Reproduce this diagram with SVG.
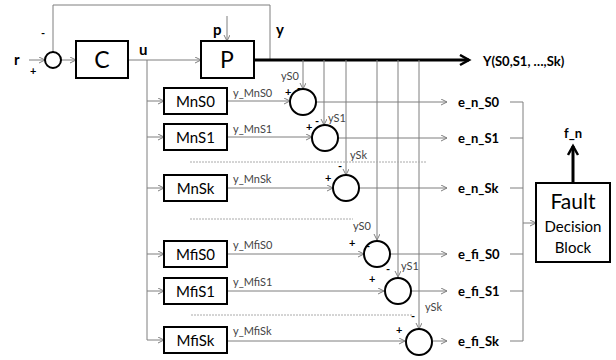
<svg xmlns="http://www.w3.org/2000/svg" width="616" height="360" viewBox="0 0 616 360">
<style>
text{font-family:Lato,"Open Sans","Liberation Sans",sans-serif;fill:#000}
.box{fill:#fff;stroke:#000;stroke-width:2}
.sum{fill:#fff;stroke:#000;stroke-width:2}
.c{fill:none;stroke:#7f7f7f;stroke-width:1}
.d{fill:none;stroke:#aaa;stroke-width:1;stroke-dasharray:2 1}
.thick{fill:none;stroke:#000;stroke-width:3}
.big{font-size:23px;text-anchor:middle}
.bl{font-size:15px;text-anchor:middle}
.sm{font-size:11px;fill:#444}
.sg{font-size:11px;font-weight:bold}
.e{font-size:13px;font-weight:bold}
.lb{font-size:15px;font-weight:bold}
</style>
<defs>
<marker id="a" markerWidth="8" markerHeight="8" refX="6" refY="3" orient="auto" markerUnits="userSpaceOnUse">
<path d="M0,0 L6,3 L0,6" fill="none" stroke="#7f7f7f" stroke-width="1"/>
</marker>
<marker id="ab" markerWidth="14" markerHeight="14" refX="10" refY="6" orient="auto" markerUnits="userSpaceOnUse">
<path d="M1,1 L10,6 L1,11" fill="none" stroke="#000" stroke-width="2.5"/>
</marker>
</defs>
<g id="connectors">
<path class="c" d="M53,52 V5 H270 V60" marker-start="url(#a)"/>
<path class="c" d="M29,60 H45" marker-end="url(#a)"/>
<path class="c" d="M61,60 H76" marker-end="url(#a)"/>
<path class="c" d="M128,60 H201" marker-end="url(#a)"/>
<path class="c" d="M227,16 V41" marker-end="url(#a)"/>
<path class="c" d="M147,60 V340"/>
<path class="c" d="M147,101 H164" marker-end="url(#a)"/>
<path class="c" d="M147,137 H164" marker-end="url(#a)"/>
<path class="c" d="M147,188 H164" marker-end="url(#a)"/>
<path class="c" d="M147,254 H164" marker-end="url(#a)"/>
<path class="c" d="M147,291 H164" marker-end="url(#a)"/>
<path class="c" d="M147,340 H164" marker-end="url(#a)"/>
<path class="thick" d="M254,60 H469" marker-end="url(#ab)"/>
<path class="c" d="M303,60 V89" marker-end="url(#a)"/>
<path class="c" d="M324,60 V125" marker-end="url(#a)"/>
<path class="c" d="M346,60 V175" marker-end="url(#a)"/>
<path class="c" d="M377,60 V240" marker-end="url(#a)"/>
<path class="c" d="M398,60 V277" marker-end="url(#a)"/>
<path class="c" d="M419,60 V329" marker-end="url(#a)"/>
<path class="c" d="M227,101 H290" marker-end="url(#a)"/>
<path class="c" d="M227,137 H312" marker-end="url(#a)"/>
<path class="c" d="M227,188 H333" marker-end="url(#a)"/>
<path class="c" d="M227,254 H364" marker-end="url(#a)"/>
<path class="c" d="M227,291 H384" marker-end="url(#a)"/>
<path class="c" d="M227,341 H405" marker-end="url(#a)"/>
<path class="c" d="M316,102 H447" marker-end="url(#a)"/>
<path class="c" d="M338,138 H447" marker-end="url(#a)"/>
<path class="c" d="M359,188 H447" marker-end="url(#a)"/>
<path class="c" d="M390,254 H447" marker-end="url(#a)"/>
<path class="c" d="M411,291 H447" marker-end="url(#a)"/>
<path class="c" d="M432,341 H447" marker-end="url(#a)"/>
<path class="c" d="M510,102 H523 M510,138 H523 M510,188 H523 M510,254 H523 M510,291 H523 M510,341 H523 M523,102 V341"/>
<path class="c" d="M523,223 H536" marker-end="url(#a)"/>
<path class="thick" d="M573,183 V146" marker-end="url(#ab)"/>
<path class="d" d="M190,162 H427"/>
<path class="d" d="M190,219 H353"/>
<path class="d" d="M191,315 H413"/>
</g>
<g id="sum_r"><circle class="sum" cx="53" cy="60" r="8"/></g>
<g id="C"><rect class="box" x="76" y="41" width="52" height="37"/><text class="big" x="102" y="68">C</text></g>
<g id="P"><rect class="box" x="201" y="41" width="53" height="37"/><text class="big" x="227" y="68">P</text></g>
<g id="MnS0"><rect class="box" x="164" y="88" width="63" height="26"/><text class="bl" x="195.5" y="106.5">MnS0</text></g>
<g id="MnS1"><rect class="box" x="164" y="124" width="63" height="26"/><text class="bl" x="195.5" y="142.5">MnS1</text></g>
<g id="MnSk"><rect class="box" x="164" y="175" width="63" height="26"/><text class="bl" x="195.5" y="193.5">MnSk</text></g>
<g id="MfiS0"><rect class="box" x="164" y="241" width="63" height="26"/><text class="bl" x="195.5" y="259.5">MfiS0</text></g>
<g id="MfiS1"><rect class="box" x="164" y="278" width="63" height="26"/><text class="bl" x="195.5" y="296.5">MfiS1</text></g>
<g id="MfiSk"><rect class="box" x="164" y="327" width="63" height="26"/><text class="bl" x="195.5" y="345.5">MfiSk</text></g>
<g id="sum_n0"><circle class="sum" cx="303" cy="102" r="13"/></g>
<g id="sum_n1"><circle class="sum" cx="325" cy="138" r="13"/></g>
<g id="sum_nk"><circle class="sum" cx="346" cy="188" r="13"/></g>
<g id="sum_fi0"><circle class="sum" cx="377" cy="254" r="13"/></g>
<g id="sum_fi1"><circle class="sum" cx="398" cy="291" r="13"/></g>
<g id="sum_fik"><circle class="sum" cx="419" cy="342" r="13"/></g>
<g id="fault"><rect class="box" x="536" y="183" width="74" height="79"/>
<text x="573" y="209" style="font-size:21px;text-anchor:middle">Fault</text>
<text x="573" y="232" style="font-size:15px;text-anchor:middle">Decision</text>
<text x="573" y="253" style="font-size:15px;text-anchor:middle">Block</text></g>
<g id="labels">
<text class="lb" x="14" y="65">r</text>
<text class="sg" x="30" y="75">+</text>
<text class="sg" x="41" y="37">-</text>
<text class="lb" x="139" y="55">u</text>
<text class="lb" x="213" y="35">p</text>
<text class="lb" x="276" y="35">y</text>
<text class="e" x="483" y="66">Y(S0,S1, …,Sk)</text>
<text class="sm" x="233" y="97">y_MnS0</text>
<text class="sm" x="233" y="133">y_MnS1</text>
<text class="sm" x="233" y="183">y_MnSk</text>
<text class="sm" x="233" y="249">y_MfiS0</text>
<text class="sm" x="233" y="286">y_MfiS1</text>
<text class="sm" x="233" y="335">y_MfiSk</text>
<text class="sm" x="281" y="80">yS0</text>
<text class="sg" x="297" y="92">-</text>
<text class="sg" x="285" y="96">+</text>
<text class="sg" x="315" y="125">-</text>
<text class="sm" x="328" y="122">yS1</text>
<text class="sg" x="306" y="131">+</text>
<text class="sm" x="350" y="159">ySk</text>
<text class="sg" x="338" y="170">-</text>
<text class="sg" x="325" y="182">+</text>
<text class="sm" x="353" y="230">yS0</text>
<text class="sg" x="349" y="247">+</text>
<text class="sg" x="366" y="250">-</text>
<text class="sg" x="386" y="273">-</text>
<text class="sm" x="401" y="270">yS1</text>
<text class="sg" x="369" y="283">+</text>
<text class="sm" x="425" y="311">ySk</text>
<text class="sg" x="411" y="320">-</text>
<text class="sg" x="396" y="334">+</text>
<text class="e" x="458" y="107">e_n_S0</text>
<text class="e" x="458" y="143">e_n_S1</text>
<text class="e" x="458" y="193">e_n_Sk</text>
<text class="e" x="458" y="259">e_fi_S0</text>
<text class="e" x="458" y="296">e_fi_S1</text>
<text class="e" x="458" y="346">e_fi_Sk</text>
<text class="e" x="573" y="138" style="text-anchor:middle">f_n</text>
</g>
</svg>
